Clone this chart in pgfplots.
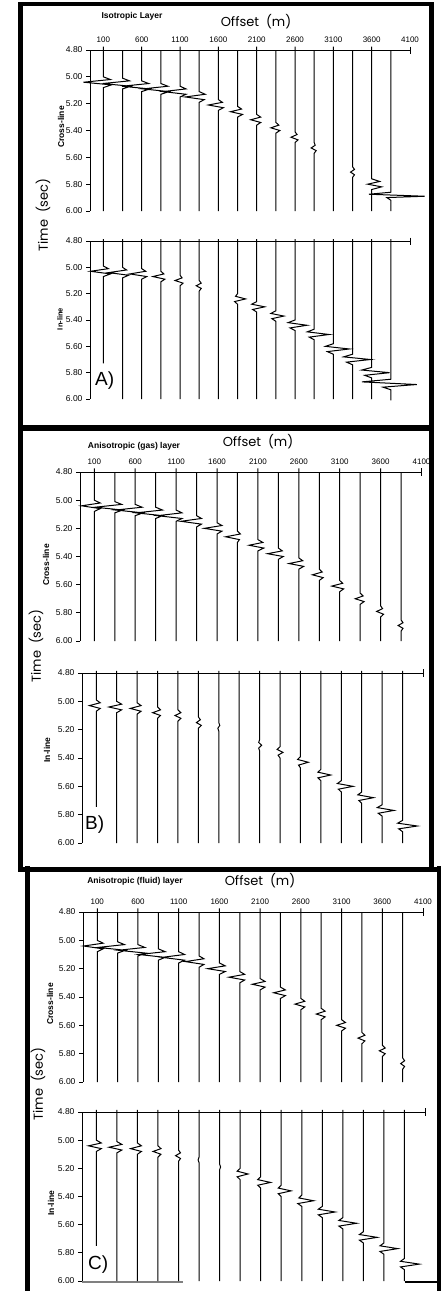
\documentclass[border=0pt]{standalone}
\usepackage{fontspec}
\setmainfont{Liberation Sans}
\newfontfamily\geo{Poppins}
\usepackage{pgfplots}
\pgfplotsset{compat=1.18}
\pgfplotsset{
  seis/.style={
    scale only axis, anchor=north west, y dir=reverse,
    xmin=-75, xmax=4100, ymin=4.8, ymax=6.0,
    clip=false, axis x line*=top, axis y line*=left,
    axis line style={line width=0.9pt,-},
    ytick={4.8,5.0,5.2,5.4,5.6,5.8,6.0},
    /pgf/number format/assume math mode=true,
    yticklabel style={/pgf/number format/.cd, fixed, fixed zerofill, precision=2, /tikz/font=\fontsize{8.5}{8.5}\selectfont},
    xticklabel style={font=\fontsize{8}{8}\selectfont},
    xtick={100,600,1100,1600,2100,2600,3100,3600,4100},
    xticklabels={100,600,1100,1600,2100,2600,3100,3600,4100},
    xtick style={draw=none},
    ytick style={line width=0.9pt, black}, tick align=outside, major tick length=4pt,
  },
  trace/.style={black, line width=1pt, unbounded coords=jump},
}
\begin{document}
\begin{tikzpicture}
\path[use as bounding box] (0pt,0pt) rectangle (440pt,-1291pt);

% ---------------- frames ----------------
\draw[line width=4pt] (18pt,-4pt) -- (433pt,-4pt);
\draw[line width=5pt] (20.5pt,-2pt) -- (20.5pt,-869pt);
\draw[line width=5pt] (431.5pt,-2pt) -- (431.5pt,-869pt);
\draw[line width=6pt] (18pt,-428pt) -- (434pt,-428pt);
\draw[line width=5pt] (18pt,-869pt) -- (440pt,-869pt);
\draw[line width=5pt] (27pt,-866pt) -- (27pt,-1291pt);
\draw[line width=4pt] (438.5pt,-866pt) -- (438.5pt,-1291pt);
\draw[gray, line width=1.5pt] (82pt,-1282pt) -- (183pt,-1282pt);
\draw[line width=1.5pt] (405pt,-1282pt) -- (440pt,-1282pt);

% ---------------- texts ----------------
\node[font=\bfseries\fontsize{8.5}{9}\selectfont] at (132pt,-16.5pt) {Isotropic Layer};
\node[font=\geo\fontsize{13}{13}\selectfont] at (256pt,-22pt) {Offset\ \ (m)};
\node[font=\bfseries\fontsize{8.5}{9}\selectfont] at (134pt,-446pt) {Anisotropic (gas) layer};
\node[font=\geo\fontsize{13}{13}\selectfont] at (258pt,-442pt) {Offset\ \ (m)};
\node[font=\bfseries\fontsize{8.5}{9}\selectfont] at (135pt,-881pt) {Anisotropic (fluid) layer};
\node[font=\geo\fontsize{13}{13}\selectfont] at (260pt,-881pt) {Offset\ \ (m)};

\node[rotate=90, font=\geo\fontsize{13}{13}\selectfont] at (43pt,-215pt) {Time\ \ (sec)};
\node[rotate=90, font=\geo\fontsize{13}{13}\selectfont] at (36pt,-646pt) {Time\ \ (sec)};
\node[rotate=90, font=\geo\fontsize{13}{13}\selectfont] at (38pt,-1084pt) {Time\ \ (sec)};

\node[rotate=90, font=\bfseries\fontsize{8.5}{9}\selectfont] at (61pt,-127pt) {Cross-line};
\node[rotate=90, font=\bfseries\fontsize{7.5}{8}\selectfont] at (60pt,-319pt) {In-line};
\node[rotate=90, font=\bfseries\fontsize{8.5}{9}\selectfont] at (46pt,-565pt) {Cross-line};
\node[rotate=90, font=\bfseries\fontsize{8.5}{9}\selectfont] at (47pt,-750pt) {In-line};
\node[rotate=90, font=\bfseries\fontsize{8.5}{9}\selectfont] at (50pt,-1004pt) {Cross-line};
\node[rotate=90, font=\bfseries\fontsize{8.5}{9}\selectfont] at (51pt,-1203pt) {In-line};

\node[font=\fontsize{19}{19}\selectfont, anchor=west, inner sep=0pt] at (95pt,-381pt) {A)};
\node[font=\fontsize{19}{19}\selectfont, anchor=west, inner sep=0pt] at (85pt,-825pt) {B)};
\node[font=\fontsize{19}{19}\selectfont, anchor=west, inner sep=0pt] at (88pt,-1265pt) {C)};

% ================= Panel A cross-line =================
\begin{axis}[seis, at={(90pt,-50pt)}, width=320pt, height=161pt]
\addplot[trace] table[x expr=\thisrow{o}+\thisrow{d}, y=t, row sep=\\] {
o t d\\
100 4.775 0\\ 100 5.00 0\\ 100 5.02 91\\ 100 5.04 -260\\ 100 5.06 104\\ 100 5.08 0\\ 100 6.0 0\\ 0 nan 0\\
350 4.8 0\\ 350 5.01 0\\ 350 5.03 91\\ 350 5.05 -260\\ 350 5.07 104\\ 350 5.09 0\\ 350 6.0 0\\ 0 nan 0\\
600 4.775 0\\ 600 5.03 0\\ 600 5.05 91\\ 600 5.07 -260\\ 600 5.09 104\\ 600 5.11 0\\ 600 6.0 0\\ 0 nan 0\\
850 4.8 0\\ 850 5.05 0\\ 850 5.07 91\\ 850 5.09 -234\\ 850 5.11 104\\ 850 5.13 0\\ 850 6.0 0\\ 0 nan 0\\
1100 4.775 0\\ 1100 5.07 0\\ 1100 5.09 78\\ 1100 5.11 -221\\ 1100 5.13 78\\ 1100 5.15 0\\ 1100 6.0 0\\ 0 nan 0\\
1350 4.8 0\\ 1350 5.11 0\\ 1350 5.13 78\\ 1350 5.15 -182\\ 1350 5.17 65\\ 1350 5.19 0\\ 1350 6.0 0\\ 0 nan 0\\
1600 4.775 0\\ 1600 5.17 0\\ 1600 5.19 52\\ 1600 5.21 -130\\ 1600 5.23 65\\ 1600 5.25 0\\ 1600 6.0 0\\ 0 nan 0\\
1850 4.8 0\\ 1850 5.22 0\\ 1850 5.24 52\\ 1850 5.26 -91\\ 1850 5.28 65\\ 1850 5.30 0\\ 1850 6.0 0\\ 0 nan 0\\
2100 4.775 0\\ 2100 5.28 0\\ 2100 5.30 52\\ 2100 5.32 -78\\ 2100 5.34 52\\ 2100 5.36 0\\ 2100 6.0 0\\ 0 nan 0\\
2350 4.8 0\\ 2350 5.34 0\\ 2350 5.36 39\\ 2350 5.38 -65\\ 2350 5.40 52\\ 2350 5.42 0\\ 2350 6.0 0\\ 0 nan 0\\
2600 4.775 0\\ 2600 5.41 0\\ 2600 5.43 26\\ 2600 5.45 -52\\ 2600 5.47 39\\ 2600 5.49 0\\ 2600 6.0 0\\ 0 nan 0\\
2850 4.8 0\\ 2850 5.49 0\\ 2850 5.51 13\\ 2850 5.53 -39\\ 2850 5.55 26\\ 2850 5.57 0\\ 2850 6.0 0\\ 0 nan 0\\
3100 4.775 0\\ 3100 6.0 0\\ 0 nan 0\\
3350 4.8 0\\ 3350 5.67 0\\ 3350 5.69 26\\ 3350 5.71 -26\\ 3350 5.73 26\\ 3350 5.75 0\\ 3350 6.0 0\\ 0 nan 0\\
3600 4.775 0\\ 3600 5.76 0\\ 3600 5.78 104\\ 3600 5.80 -52\\ 3600 5.82 130\\ 3600 5.84 0\\ 3600 6.0 0\\ 0 nan 0\\
3850 4.8 0\\ 3850 5.86 0\\ 3850 5.875 -286\\ 3850 5.89 442\\ 3850 5.90 -52\\ 3850 5.92 0\\ 3850 6.0 0\\
};
\draw[line width=0.9pt] (axis cs:4100,4.775) -- (axis cs:4100,4.83);
\end{axis}

% ================= Panel A in-line =================
\begin{axis}[seis, at={(90pt,-241pt)}, width=320pt, height=158pt, xtick=\empty]
\addplot[trace] table[x expr=\thisrow{o}+\thisrow{d}, y=t, row sep=\\] {
o t d\\
100 4.785 0\\ 100 4.99 0\\ 100 5.01 65\\ 100 5.03 -169\\ 100 5.05 91\\ 100 5.07 0\\ 100 5.73 0\\ 0 nan 0\\
350 4.785 0\\ 350 5.00 0\\ 350 5.02 52\\ 350 5.04 -182\\ 350 5.06 78\\ 350 5.08 0\\ 350 6.0 0\\ 0 nan 0\\
600 4.785 0\\ 600 5.01 0\\ 600 5.03 52\\ 600 5.05 -156\\ 600 5.07 65\\ 600 5.09 0\\ 600 6.0 0\\ 0 nan 0\\
850 4.785 0\\ 850 5.03 0\\ 850 5.05 39\\ 850 5.07 -104\\ 850 5.09 52\\ 850 5.11 0\\ 850 6.0 0\\ 0 nan 0\\
1100 4.785 0\\ 1100 5.06 0\\ 1100 5.08 26\\ 1100 5.10 -65\\ 1100 5.12 39\\ 1100 5.14 0\\ 1100 6.0 0\\ 0 nan 0\\
1350 4.785 0\\ 1350 5.10 0\\ 1350 5.12 26\\ 1350 5.14 -39\\ 1350 5.16 26\\ 1350 5.18 0\\ 1350 6.0 0\\ 0 nan 0\\
1600 4.785 0\\ 1600 6.0 0\\ 0 nan 0\\
1850 4.785 0\\ 1850 5.20 0\\ 1850 5.22 -26\\ 1850 5.24 104\\ 1850 5.26 -39\\ 1850 5.28 0\\ 1850 6.0 0\\ 0 nan 0\\
2100 4.785 0\\ 2100 5.26 0\\ 2100 5.28 -65\\ 2100 5.30 104\\ 2100 5.32 -52\\ 2100 5.34 0\\ 2100 6.0 0\\ 0 nan 0\\
2350 4.785 0\\ 2350 5.33 0\\ 2350 5.35 -65\\ 2350 5.37 104\\ 2350 5.39 -52\\ 2350 5.41 0\\ 2350 6.0 0\\ 0 nan 0\\
2600 4.785 0\\ 2600 5.40 0\\ 2600 5.42 -91\\ 2600 5.44 156\\ 2600 5.46 -65\\ 2600 5.48 0\\ 2600 6.0 0\\ 0 nan 0\\
2850 4.785 0\\ 2850 5.47 0\\ 2850 5.49 -91\\ 2850 5.51 195\\ 2850 5.53 -65\\ 2850 5.55 0\\ 2850 6.0 0\\ 0 nan 0\\
3100 4.785 0\\ 3100 5.58 0\\ 3100 5.60 -104\\ 3100 5.62 208\\ 3100 5.64 -78\\ 3100 5.66 0\\ 3100 6.0 0\\ 0 nan 0\\
3350 4.785 0\\ 3350 5.66 0\\ 3350 5.68 -117\\ 3350 5.70 234\\ 3350 5.72 -78\\ 3350 5.74 0\\ 3350 6.0 0\\ 0 nan 0\\
3600 4.785 0\\ 3600 5.76 0\\ 3600 5.78 -130\\ 3600 5.80 234\\ 3600 5.82 -91\\ 3600 5.84 0\\ 3600 6.0 0\\ 0 nan 0\\
3850 4.785 0\\ 3850 5.85 0\\ 3850 5.87 -377\\ 3850 5.89 338\\ 3850 5.91 -104\\ 3850 5.93 0\\ 3850 6.01 0\\
};
\draw[line width=0.9pt] (axis cs:4100,4.775) -- (axis cs:4100,4.83);
\end{axis}

% ================= Panel B cross-line =================
\begin{axis}[seis, at={(80pt,-472pt)}, width=341.5pt, height=169pt]
\addplot[trace] table[x expr=\thisrow{o}+\thisrow{d}, y=t, row sep=\\] {
o t d\\
100 4.775 0\\ 100 5.00 0\\ 100 5.02 72\\ 100 5.04 -156\\ 100 5.06 72\\ 100 5.08 0\\ 100 6.0 0\\ 0 nan 0\\
350 4.8 0\\ 350 5.01 0\\ 350 5.03 84\\ 350 5.05 -240\\ 350 5.07 96\\ 350 5.09 0\\ 350 6.0 0\\ 0 nan 0\\
600 4.775 0\\ 600 5.03 0\\ 600 5.05 84\\ 600 5.07 -240\\ 600 5.09 96\\ 600 5.11 0\\ 600 6.0 0\\ 0 nan 0\\
850 4.8 0\\ 850 5.05 0\\ 850 5.07 84\\ 850 5.09 -240\\ 850 5.11 84\\ 850 5.13 0\\ 850 6.0 0\\ 0 nan 0\\
1100 4.775 0\\ 1100 5.07 0\\ 1100 5.09 72\\ 1100 5.11 -228\\ 1100 5.13 72\\ 1100 5.15 0\\ 1100 6.0 0\\ 0 nan 0\\
1350 4.8 0\\ 1350 5.11 0\\ 1350 5.13 60\\ 1350 5.15 -192\\ 1350 5.17 60\\ 1350 5.19 0\\ 1350 6.0 0\\ 0 nan 0\\
1600 4.775 0\\ 1600 5.16 0\\ 1600 5.18 60\\ 1600 5.20 -156\\ 1600 5.22 60\\ 1600 5.24 0\\ 1600 6.0 0\\ 0 nan 0\\
1850 4.8 0\\ 1850 5.22 0\\ 1850 5.24 36\\ 1850 5.26 -144\\ 1850 5.28 24\\ 1850 5.30 0\\ 1850 6.0 0\\ 0 nan 0\\
2100 4.775 0\\ 2100 5.28 0\\ 2100 5.30 60\\ 2100 5.32 -108\\ 2100 5.34 72\\ 2100 5.36 0\\ 2100 6.0 0\\ 0 nan 0\\
2350 4.8 0\\ 2350 5.34 0\\ 2350 5.36 48\\ 2350 5.38 -132\\ 2350 5.40 60\\ 2350 5.42 0\\ 2350 6.0 0\\ 0 nan 0\\
2600 4.775 0\\ 2600 5.41 0\\ 2600 5.43 48\\ 2600 5.45 -120\\ 2600 5.47 60\\ 2600 5.49 0\\ 2600 6.0 0\\ 0 nan 0\\
2850 4.8 0\\ 2850 5.49 0\\ 2850 5.51 36\\ 2850 5.53 -84\\ 2850 5.55 48\\ 2850 5.57 0\\ 2850 6.0 0\\ 0 nan 0\\
3100 4.775 0\\ 3100 5.57 0\\ 3100 5.59 36\\ 3100 5.61 -96\\ 3100 5.63 48\\ 3100 5.65 0\\ 3100 6.0 0\\ 0 nan 0\\
3350 4.8 0\\ 3350 5.66 0\\ 3350 5.68 36\\ 3350 5.70 -60\\ 3350 5.72 48\\ 3350 5.74 0\\ 3350 6.0 0\\ 0 nan 0\\
3600 4.775 0\\ 3600 5.75 0\\ 3600 5.77 24\\ 3600 5.79 -48\\ 3600 5.81 36\\ 3600 5.83 0\\ 3600 6.0 0\\ 0 nan 0\\
3850 4.8 0\\ 3850 5.85 0\\ 3850 5.87 24\\ 3850 5.89 -36\\ 3850 5.91 24\\ 3850 5.93 0\\ 3850 6.0 0\\
};
\draw[line width=0.9pt] (axis cs:4100,4.775) -- (axis cs:4100,4.83);
\end{axis}

% ================= Panel B in-line =================
\begin{axis}[seis, at={(82pt,-673pt)}, width=341pt, height=170pt, xtick=\empty]
\addplot[trace] table[x expr=\thisrow{o}+\thisrow{d}, y=t, row sep=\\] {
o t d\\
100 4.785 0\\ 100 4.99 0\\ 100 5.01 48\\ 100 5.03 -84\\ 100 5.05 48\\ 100 5.07 0\\ 100 5.745 0\\ 0 nan 0\\
350 4.785 0\\ 350 5.00 0\\ 350 5.02 60\\ 350 5.04 -96\\ 350 5.06 60\\ 350 5.08 0\\ 350 6.0 0\\ 0 nan 0\\
600 4.785 0\\ 600 5.01 0\\ 600 5.03 48\\ 600 5.05 -84\\ 600 5.07 48\\ 600 5.09 0\\ 600 6.0 0\\ 0 nan 0\\
850 4.785 0\\ 850 5.04 0\\ 850 5.06 36\\ 850 5.08 -60\\ 850 5.10 36\\ 850 5.12 0\\ 850 6.0 0\\ 0 nan 0\\
1100 4.785 0\\ 1100 5.06 0\\ 1100 5.08 36\\ 1100 5.10 -36\\ 1100 5.12 36\\ 1100 5.14 0\\ 1100 6.0 0\\ 0 nan 0\\
1350 4.785 0\\ 1350 5.11 0\\ 1350 5.13 24\\ 1350 5.15 -24\\ 1350 5.17 36\\ 1350 5.19 0\\ 1350 6.0 0\\ 0 nan 0\\
1600 4.785 0\\ 1600 5.15 0\\ 1600 5.17 12\\ 1600 5.19 -12\\ 1600 5.21 0\\ 1600 6.0 0\\ 0 nan 0\\
1850 4.785 0\\ 1850 6.0 0\\ 0 nan 0\\
2100 4.785 0\\ 2100 5.27 0\\ 2100 5.29 -12\\ 2100 5.31 24\\ 2100 5.33 -12\\ 2100 5.35 0\\ 2100 6.0 0\\ 0 nan 0\\
2350 4.785 0\\ 2350 5.32 0\\ 2350 5.34 -36\\ 2350 5.36 36\\ 2350 5.38 -24\\ 2350 5.40 0\\ 2350 6.0 0\\ 0 nan 0\\
2600 4.785 0\\ 2600 5.39 0\\ 2600 5.41 -36\\ 2600 5.43 96\\ 2600 5.45 -24\\ 2600 5.47 0\\ 2600 6.0 0\\ 0 nan 0\\
2850 4.785 0\\ 2850 5.48 0\\ 2850 5.50 -36\\ 2850 5.52 120\\ 2850 5.54 -36\\ 2850 5.56 0\\ 2850 6.0 0\\ 0 nan 0\\
3100 4.785 0\\ 3100 5.56 0\\ 3100 5.58 -48\\ 3100 5.60 144\\ 3100 5.62 -36\\ 3100 5.64 0\\ 3100 6.0 0\\ 0 nan 0\\
3350 4.785 0\\ 3350 5.64 0\\ 3350 5.66 -48\\ 3350 5.68 144\\ 3350 5.70 -36\\ 3350 5.72 0\\ 3350 6.0 0\\ 0 nan 0\\
3600 4.785 0\\ 3600 5.73 0\\ 3600 5.75 -60\\ 3600 5.77 144\\ 3600 5.79 -48\\ 3600 5.81 0\\ 3600 6.0 0\\ 0 nan 0\\
3850 4.785 0\\ 3850 5.84 0\\ 3850 5.86 -60\\ 3850 5.88 180\\ 3850 5.90 -48\\ 3850 5.92 0\\ 3850 6.0 0\\
};
\draw[line width=0.9pt] (axis cs:4100,4.775) -- (axis cs:4100,4.83);
\end{axis}

% ================= Panel C cross-line =================
\begin{axis}[seis, at={(83pt,-912pt)}, width=340pt, height=170pt]
\addplot[trace] table[x expr=\thisrow{o}+\thisrow{d}, y=t, row sep=\\] {
o t d\\
100 4.775 0\\ 100 5.00 0\\ 100 5.02 72\\ 100 5.04 -168\\ 100 5.06 72\\ 100 5.08 0\\ 100 6.0 0\\ 0 nan 0\\
350 4.8 0\\ 350 5.01 0\\ 350 5.03 84\\ 350 5.05 -240\\ 350 5.07 96\\ 350 5.09 0\\ 350 6.0 0\\ 0 nan 0\\
600 4.775 0\\ 600 5.03 0\\ 600 5.05 84\\ 600 5.07 -240\\ 600 5.09 96\\ 600 5.11 0\\ 600 6.0 0\\ 0 nan 0\\
850 4.8 0\\ 850 5.06 0\\ 850 5.08 84\\ 850 5.10 -240\\ 850 5.12 84\\ 850 5.14 0\\ 850 6.0 0\\ 0 nan 0\\
1100 4.775 0\\ 1100 5.08 0\\ 1100 5.10 72\\ 1100 5.12 -204\\ 1100 5.14 72\\ 1100 5.16 0\\ 1100 6.0 0\\ 0 nan 0\\
1350 4.8 0\\ 1350 5.11 0\\ 1350 5.13 60\\ 1350 5.15 -168\\ 1350 5.17 60\\ 1350 5.19 0\\ 1350 6.0 0\\ 0 nan 0\\
1600 4.775 0\\ 1600 5.16 0\\ 1600 5.18 72\\ 1600 5.20 -144\\ 1600 5.22 72\\ 1600 5.24 0\\ 1600 6.0 0\\ 0 nan 0\\
1850 4.8 0\\ 1850 5.22 0\\ 1850 5.24 60\\ 1850 5.26 -132\\ 1850 5.28 60\\ 1850 5.30 0\\ 1850 6.0 0\\ 0 nan 0\\
2100 4.775 0\\ 2100 5.27 0\\ 2100 5.29 60\\ 2100 5.31 -96\\ 2100 5.33 60\\ 2100 5.35 0\\ 2100 6.0 0\\ 0 nan 0\\
2350 4.8 0\\ 2350 5.33 0\\ 2350 5.35 60\\ 2350 5.37 -84\\ 2350 5.39 60\\ 2350 5.41 0\\ 2350 6.0 0\\ 0 nan 0\\
2600 4.775 0\\ 2600 5.41 0\\ 2600 5.43 48\\ 2600 5.45 -72\\ 2600 5.47 48\\ 2600 5.49 0\\ 2600 6.0 0\\ 0 nan 0\\
2850 4.8 0\\ 2850 5.48 0\\ 2850 5.50 48\\ 2850 5.52 -60\\ 2850 5.54 48\\ 2850 5.56 0\\ 2850 6.0 0\\ 0 nan 0\\
3100 4.775 0\\ 3100 5.56 0\\ 3100 5.58 48\\ 3100 5.60 -60\\ 3100 5.62 48\\ 3100 5.64 0\\ 3100 6.0 0\\ 0 nan 0\\
3350 4.8 0\\ 3350 5.65 0\\ 3350 5.67 36\\ 3350 5.69 -48\\ 3350 5.71 36\\ 3350 5.73 0\\ 3350 6.0 0\\ 0 nan 0\\
3600 4.775 0\\ 3600 5.74 0\\ 3600 5.76 36\\ 3600 5.78 -36\\ 3600 5.80 36\\ 3600 5.82 0\\ 3600 6.0 0\\ 0 nan 0\\
3850 4.8 0\\ 3850 5.83 0\\ 3850 5.85 24\\ 3850 5.87 -24\\ 3850 5.89 24\\ 3850 5.91 0\\ 3850 6.0 0\\
};
\draw[line width=0.9pt] (axis cs:4100,4.775) -- (axis cs:4100,4.83);
\end{axis}

% ================= Panel C in-line =================
\begin{axis}[seis, at={(82pt,-1112pt)}, width=343pt, height=169pt, xtick=\empty]
\addplot[trace] table[x expr=\thisrow{o}+\thisrow{d}, y=t, row sep=\\] {
o t d\\
100 4.785 0\\ 100 5.00 0\\ 100 5.02 60\\ 100 5.04 -96\\ 100 5.06 60\\ 100 5.08 0\\ 100 5.75 0\\ 0 nan 0\\
350 4.785 0\\ 350 5.01 0\\ 350 5.03 60\\ 350 5.05 -96\\ 350 5.07 60\\ 350 5.09 0\\ 350 6.0 0\\ 0 nan 0\\
600 4.785 0\\ 600 5.02 0\\ 600 5.04 48\\ 600 5.06 -84\\ 600 5.08 48\\ 600 5.10 0\\ 600 6.0 0\\ 0 nan 0\\
850 4.785 0\\ 850 5.04 0\\ 850 5.06 36\\ 850 5.08 -60\\ 850 5.10 36\\ 850 5.12 0\\ 850 6.0 0\\ 0 nan 0\\
1100 4.785 0\\ 1100 5.07 0\\ 1100 5.09 24\\ 1100 5.11 -36\\ 1100 5.13 24\\ 1100 5.15 0\\ 1100 6.0 0\\ 0 nan 0\\
1350 4.785 0\\ 1350 5.12 0\\ 1350 5.14 -12\\ 1350 5.16 0\\ 1350 6.0 0\\ 0 nan 0\\
1600 4.785 0\\ 1600 5.17 0\\ 1600 5.19 12\\ 1600 5.21 0\\ 1600 6.0 0\\ 0 nan 0\\
1850 4.785 0\\ 1850 5.20 0\\ 1850 5.22 -36\\ 1850 5.24 96\\ 1850 5.26 -36\\ 1850 5.28 0\\ 1850 6.0 0\\ 0 nan 0\\
2100 4.785 0\\ 2100 5.26 0\\ 2100 5.28 -36\\ 2100 5.30 120\\ 2100 5.32 -36\\ 2100 5.34 0\\ 2100 6.0 0\\ 0 nan 0\\
2350 4.785 0\\ 2350 5.32 0\\ 2350 5.34 -36\\ 2350 5.36 120\\ 2350 5.38 -36\\ 2350 5.40 0\\ 2350 6.0 0\\ 0 nan 0\\
2600 4.785 0\\ 2600 5.39 0\\ 2600 5.41 -36\\ 2600 5.43 144\\ 2600 5.45 -48\\ 2600 5.47 0\\ 2600 6.0 0\\ 0 nan 0\\
2850 4.785 0\\ 2850 5.47 0\\ 2850 5.49 -48\\ 2850 5.51 156\\ 2850 5.53 -48\\ 2850 5.55 0\\ 2850 6.0 0\\ 0 nan 0\\
3100 4.785 0\\ 3100 5.55 0\\ 3100 5.57 -48\\ 3100 5.59 168\\ 3100 5.61 -48\\ 3100 5.63 0\\ 3100 6.0 0\\ 0 nan 0\\
3350 4.785 0\\ 3350 5.65 0\\ 3350 5.67 -48\\ 3350 5.69 168\\ 3350 5.71 -48\\ 3350 5.73 0\\ 3350 6.0 0\\ 0 nan 0\\
3600 4.785 0\\ 3600 5.73 0\\ 3600 5.75 -48\\ 3600 5.77 168\\ 3600 5.79 -48\\ 3600 5.81 0\\ 3600 6.0 0\\ 0 nan 0\\
3850 4.785 0\\ 3850 5.84 0\\ 3850 5.86 -48\\ 3850 5.88 180\\ 3850 5.90 -48\\ 3850 5.92 0\\ 3850 6.0 0\\
};
\draw[line width=0.9pt] (axis cs:4100,4.775) -- (axis cs:4100,4.83);
\end{axis}
\end{tikzpicture}
\end{document}
